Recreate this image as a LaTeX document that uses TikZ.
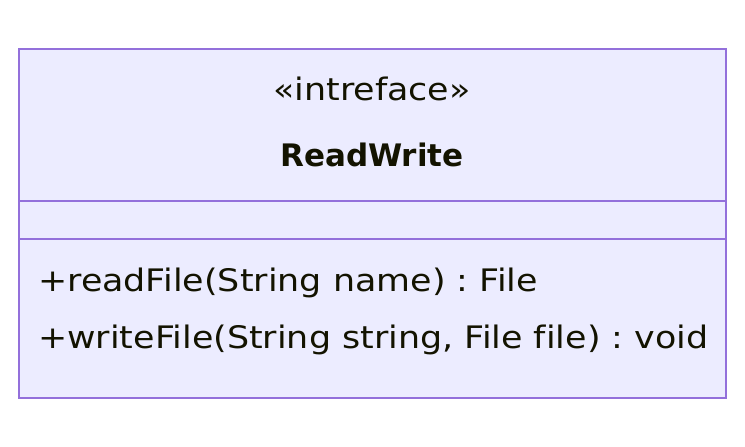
\documentclass[tikz,border=0pt]{standalone}
\usepackage{fontspec}
\setmainfont[Ligatures={NoCommon}, FakeStretch=1.125]{DejaVu Sans}
\newfontfamily\namefont{DejaVu Sans}
\definecolor{boxfill}{HTML}{ECECFF}
\definecolor{boxline}{HTML}{9370DB}
\definecolor{txt}{HTML}{131300}
\tikzset{
  lbl/.style={anchor=base, inner sep=0pt, text=txt, font=\fontsize{31}{36}\selectfont\frenchspacing},
  mlbl/.style={lbl, anchor=base west},
}
\begin{document}
\begin{tikzpicture}[x=1pt,y=-1pt]
\useasboundingbox (0,0) rectangle (745,447);
\draw[boxline, fill=boxfill, line width=2pt] (18.5,48.5) rectangle (726,398);
\coordinate (dl1) at (18.5,201); \coordinate (dr1) at (726,201);
\coordinate (dl2) at (18.5,238.5); \coordinate (dr2) at (726,238.5);
\draw[boxline, line width=2pt] (dl1) -- (dr1);
\draw[boxline, line width=2pt] (dl2) -- (dr2);
\node[lbl] (stereo) at (372,100) {«intreface»};
\node[lbl, font=\fontsize{31}{36}\namefont\bfseries] (name) at (372,166.5) {ReadWrite};
\node[mlbl] (m1) at (38,291) {+readFile(String name) : File};
\node[mlbl] (m2) at (38,348) {+writeFile(String string, File file) : void};
\end{tikzpicture}
\end{document}
